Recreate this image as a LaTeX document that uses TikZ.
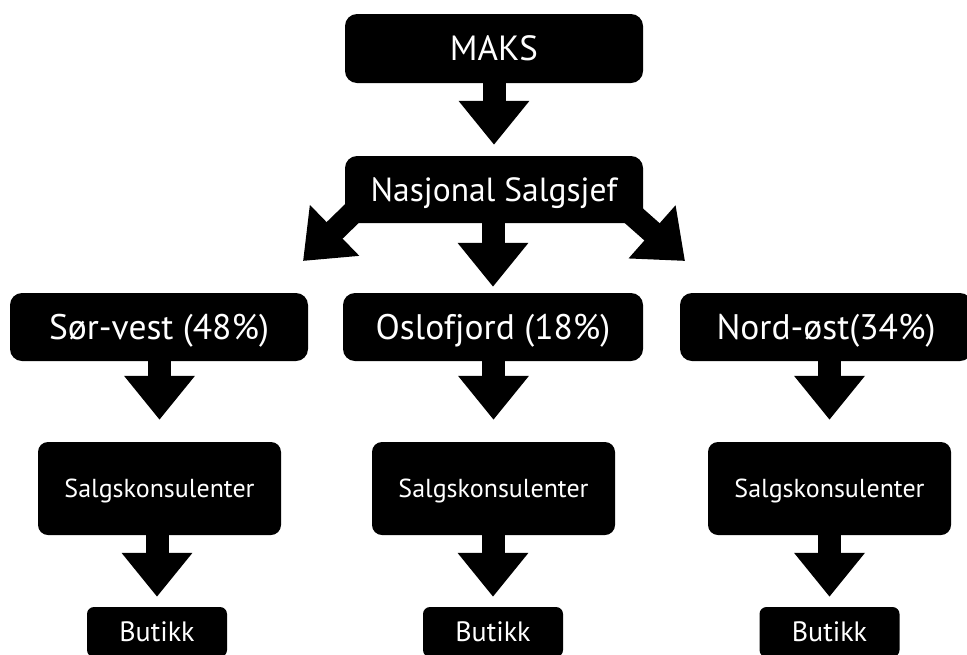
\documentclass[tikz,border=0pt]{standalone}
\usepackage{fontspec}
\setmainfont{PT Sans}
\usetikzlibrary{arrows.meta,calc,backgrounds}
\begin{document}
\begin{tikzpicture}[x=1pt,y=-1pt,
  box/.style={fill=black, text=white, inner sep=0pt, text depth=0pt, align=center},
  big/.style={box, minimum width=298pt, minimum height=68pt, rounded corners=12pt,
    text height=23.5pt, font=\fontsize{33.5}{38}\selectfont},
  region/.style={big, text height=24.5pt, font=\fontsize{35.5}{40}\selectfont},
  mid/.style={box, minimum width=243pt, minimum height=93pt, rounded corners=10pt,
    text height=18pt, font=\fontsize{26}{30}\selectfont},
  small/.style={box, minimum width=140pt, minimum height=50pt, rounded corners=7pt,
    text height=19pt, font=\fontsize{28}{32}\selectfont},
  flow/.style={draw=black, line width=23pt, -{Triangle[width=68pt,length=44pt]}},
]
\useasboundingbox (0,0) rectangle (967,654);

% top of the chain
\node[big, minimum height=69pt, text height=24.5pt, font=\fontsize{35}{40}\selectfont] (maks) at (494,48.5) {MAKS};
\node[big, minimum height=67pt] (nas) at (494,189.5) {Nasjonal Salgsjef};

% regions
\node[region] (sor)  at (159,327) {Sør-vest (48\%)};
\node[region, minimum width=300pt] (oslo) at (493,327) {Oslofjord (18\%)};
\node[region, minimum width=292pt] (nord) at (826,327) {Nord-øst(34\%)};

% sales consultants
\node[mid] (sk1) at (159.5,488.5) {Salgskonsulenter};
\node[mid] (sk2) at (493.5,488.5) {Salgskonsulenter};
\node[mid] (sk3) at (829.5,488.5) {Salgskonsulenter};

% shops
\node[small] (b1) at (157,632) {Butikk};
\node[small] (b2) at (493,632) {Butikk};
\node[small] (b3) at (829.5,632) {Butikk};

% free ends of the two slanted arrows
\coordinate (ltip) at (303,261);
\coordinate (rtip) at (685,261);

\begin{pgfonlayer}{background}
  \fill[white] (0,0) rectangle (967,654);
  \draw[flow, shorten >=11pt] (maks) -- (nas);
  \draw[flow, shorten >=6pt] (oslo |- nas.south) -- (oslo);
  \draw[flow] ($(nas.south west)+(24.5,-26.5)$) -- (ltip);
  \draw[flow] ($(nas.south east)+(-27.5,-23.5)$) -- (rtip);
  \draw[flow, shorten >=22pt] (sk1 |- sor.south) -- (sk1);
  \draw[flow, shorten >=22pt] (sk2 |- oslo.south) -- (sk2);
  \draw[flow, shorten >=22pt] (sk3 |- nord.south) -- (sk3);
  \draw[flow, shorten >=10pt] (b1 |- sk1.south) -- (b1);
  \draw[flow, shorten >=10pt] (b2 |- sk2.south) -- (b2);
  \draw[flow, shorten >=10pt] (b3 |- sk3.south) -- (b3);
\end{pgfonlayer}
\end{tikzpicture}
\end{document}
